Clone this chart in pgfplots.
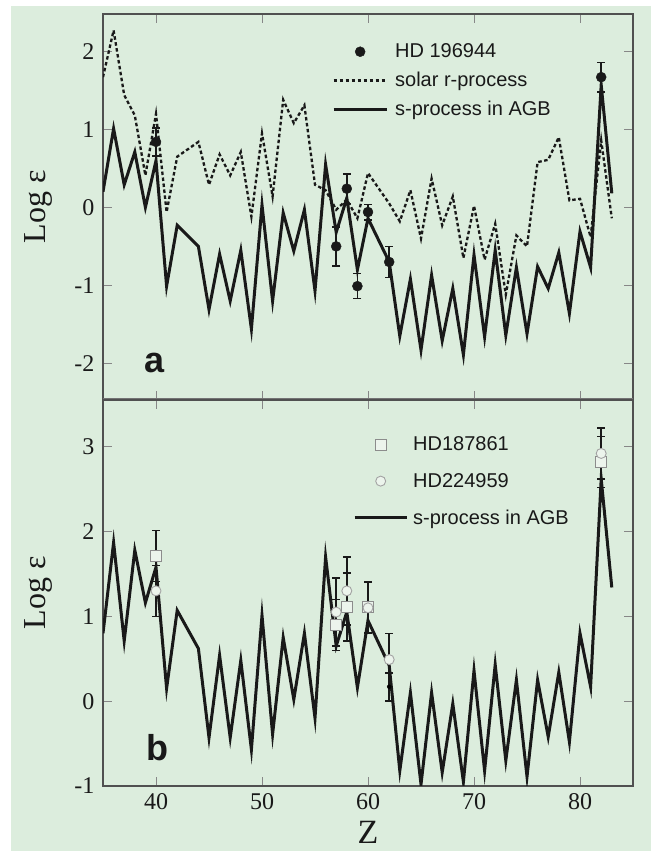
\documentclass[border=0pt]{standalone}
\usepackage{pgfplots}
\pgfplotsset{compat=1.18}
\usepackage{fontspec}
\setmainfont{Liberation Serif}
\newfontfamily\lsans{Liberation Sans}
\definecolor{bgmint}{RGB}{220,237,221}
\definecolor{axgray}{RGB}{80,80,80}
\definecolor{tkgray}{RGB}{135,135,135}
\definecolor{ink}{RGB}{25,25,25}
\definecolor{mkgray}{RGB}{140,140,140}
\definecolor{mkfill}{RGB}{236,244,236}

\pgfplotsset{
  panel/.style={
    scale only axis, width=530pt, height=386pt,
    xmin=35, xmax=85, anchor=south west,
    axis line style={axgray, line width=1.3pt},
    tick align=inside, major tick length=9pt,
    every tick/.style={tkgray, line width=1pt},
    xtick={40,50,60,70,80},
    tick label style={font=\fontsize{24}{24}\selectfont, text=ink},
    yticklabel style={xshift=-5pt},
    xticklabel style={yshift=-4pt},
    ylabel={Log ε},
    ylabel style={font=\fontsize{32}{32}\selectfont, text=ink,
      at={(axis description cs:-0.1226,0.5)}, anchor=center},
    legend style={draw=none, fill=none, inner sep=0pt,
      font=\lsans\fontsize{20}{24}\selectfont, text=ink,
      column sep=5pt, cells={anchor=west}},
  },
  solidline/.style={ink, line width=3pt, line join=miter, miter limit=20},
  dotline/.style={ink, line width=2.3pt, dash pattern=on 3.5pt off 2.5pt},
  ebars/.style={error bars/.cd, y dir=both, y explicit,
    error bar style={ink, line width=1.5pt},
    error mark options={ink, rotate=90, mark size=4pt, line width=1.5pt}},
  leglineA/.style={legend image code/.code={\draw[##1] (0pt,0pt) -- (53pt,0pt);}},
  legmarkA/.style={legend image code/.code={\draw[##1] plot coordinates {(26.5pt,0pt)};}},
  leglineB/.style={legend image code/.code={\draw[##1] (0pt,0pt) -- (52pt,0pt);}},
  legmarkB/.style={legend image code/.code={\draw[##1] plot coordinates {(26pt,0pt)};}},
}

\begin{document}
\begin{tikzpicture}
\useasboundingbox (0pt,0pt) rectangle (656pt,851pt);
\fill[white] (0pt,0pt) rectangle (656pt,851pt);
\fill[bgmint] (11pt,0pt) rectangle (651pt,845pt);

% panel a
\begin{axis}[panel, at={(103pt,451pt)},
  ymin=-2.47, ymax=2.48,
  ytick={-2,-1,0,1,2}, yticklabels={-2,-1,0,1,2},
  xticklabels={},
  legend style={at={(rel axis cs:0.432,0.928)}, anchor=north west, row sep=9pt}]
\addplot[forget plot, dotline] coordinates {
(35,1.67) (36,2.27) (37,1.44) (38,1.18) (39,0.41) (40,1.20) (41,-0.06)
(42,0.65) (44,0.84) (45,0.29) (46,0.68) (47,0.41) (48,0.71) (49,-0.12)
(50,0.95) (51,0.14) (52,1.38) (53,1.08) (54,1.31) (55,0.29) (56,0.22)
(57,-0.03) (58,0.10) (59,-0.14) (60,0.44) (62,0.05) (63,-0.18) (64,0.22)
(65,-0.40) (66,0.37) (67,-0.23) (68,0.14) (69,-0.65) (70,0.02) (71,-0.67)
(72,-0.21) (73,-1.12) (74,-0.36) (75,-0.50) (76,0.58) (77,0.61) (78,0.90)
(79,0.09) (80,0.11) (81,-0.38) (82,0.86) (83,-0.14)};
\addplot[forget plot, solidline] coordinates {
(35,0.20) (36,1.01) (37,0.29) (38,0.71) (39,0.00) (40,0.60) (41,-1.01)
(42,-0.23) (44,-0.50) (45,-1.31) (46,-0.60) (47,-1.20) (48,-0.55) (49,-1.56)
(50,0.03) (51,-1.20) (52,-0.07) (53,-0.56) (54,-0.03) (55,-1.07) (56,0.55)
(57,-0.32) (58,0.12) (59,-0.80) (60,-0.14) (62,-0.70) (63,-1.65) (64,-0.92)
(65,-1.83) (66,-0.87) (67,-1.71) (68,-1.04) (69,-1.89) (70,-0.61) (71,-1.66)
(72,-0.55) (73,-1.64) (74,-0.77) (75,-1.62) (76,-0.76) (77,-1.04) (78,-0.58)
(79,-1.36) (80,-0.31) (81,-0.77) (82,1.57) (83,0.18)};
\addplot[forget plot, only marks, mark=*, mark size=5pt, ink, ebars] coordinates {
(40,0.84) +- (0,0.18)
(57,-0.50) +- (0,0.25)
(58,0.24) +- (0,0.19)
(59,-1.01) +- (0,0.16)
(60,-0.06) +- (0,0.10)
(62,-0.70) +- (0,0.20)
(82,1.67) +- (0,0.19)};
\addlegendimage{only marks, mark=*, mark size=5pt, ink, legmarkA}
\addlegendentry{HD 196944}
\addlegendimage{dotline, leglineA}
\addlegendentry{solar r-process}
\addlegendimage{solidline, leglineA}
\addlegendentry{s-process in AGB}
\draw[axgray!80, line width=3pt] (rel axis cs:0,0) -- (rel axis cs:1,0);
\node[anchor=base west, inner sep=0pt, text=ink,
  font=\lsans\bfseries\fontsize{36}{36}\selectfont] at (rel axis cs:0.078,0.07) {a};
\end{axis}

% panel b
\begin{axis}[panel, at={(103pt,65pt)},
  ymin=-1, ymax=3.55,
  ytick={-1,0,1,2,3}, yticklabels={-1,0,1,2,3},
  xticklabels={40,50,60,70,80},
  xlabel={Z},
  xlabel style={font=\fontsize{34}{34}\selectfont, text=ink, inner sep=0pt,
    at={(axis description cs:0.5,-0.12)}, anchor=center},
  legend style={at={(rel axis cs:0.4717,0.91)}, anchor=north west, row sep=17pt, column sep=3pt}]
\addplot[forget plot, solidline] coordinates {
(35,0.80) (36,1.87) (37,0.71) (38,1.78) (39,1.16) (40,1.58) (41,0.15)
(42,1.07) (44,0.62) (45,-0.43) (46,0.54) (47,-0.43) (48,0.48) (49,-0.57)
(50,1.01) (51,-0.39) (52,0.75) (53,0.02) (54,0.80) (55,-0.20) (56,1.70)
(57,0.65) (58,1.05) (59,0.16) (60,0.95) (62,0.42) (63,-0.82) (64,0.10)
(65,-0.98) (66,0.10) (67,-0.84) (68,-0.03) (69,-0.95) (70,0.36) (71,-0.82)
(72,0.43) (73,-0.70) (74,0.25) (75,-0.89) (76,0.25) (77,-0.42) (78,0.34)
(79,-0.48) (80,0.80) (81,0.17) (82,2.62) (83,1.34)};
% HD187861 at Z=62: only its error bar shows in the original
\addplot[forget plot, only marks, mark=none, ebars] coordinates {
(62,0.17) +- (0,0.17)};
\addplot[forget plot, only marks, mark=square*, mark size=5.5pt,
  mark options={draw=mkgray, fill=mkfill, line width=1pt}, ebars] coordinates {
(40,1.71) +- (0,0.30)
(57,0.90) +- (0,0.30)
(58,1.11) +- (0,0.40)
(60,1.11) +- (0,0.30)
(82,2.82) +- (0,0.30)};
\addplot[forget plot, only marks, mark=*, mark size=5pt,
  mark options={draw=mkgray!80, fill=mkfill, line width=0.9pt}, ebars] coordinates {
(40,1.30) +- (0,0.30)
(57,1.05) +- (0,0.40)
(58,1.30) +- (0,0.40)
(60,1.10) +- (0,0.30)
(62,0.49) += (0,0.31) -= (0,0.16)
(82,2.92) +- (0,0.30)};
\addlegendimage{only marks, mark=square*, mark size=5.5pt,
  mark options={draw=mkgray, fill=mkfill, line width=1pt}, legmarkB}
\addlegendentry{HD187861}
\addlegendimage{only marks, mark=*, mark size=5pt,
  mark options={draw=mkgray!80, fill=mkfill, line width=0.9pt}, legmarkB}
\addlegendentry{HD224959}
\addlegendimage{solidline, leglineB}
\addlegendentry{s-process in AGB}
\node[anchor=base west, inner sep=0pt, text=ink,
  font=\lsans\bfseries\fontsize{36}{36}\selectfont] at (rel axis cs:0.081,0.067) {b};
\end{axis}
\end{tikzpicture}
\end{document}
